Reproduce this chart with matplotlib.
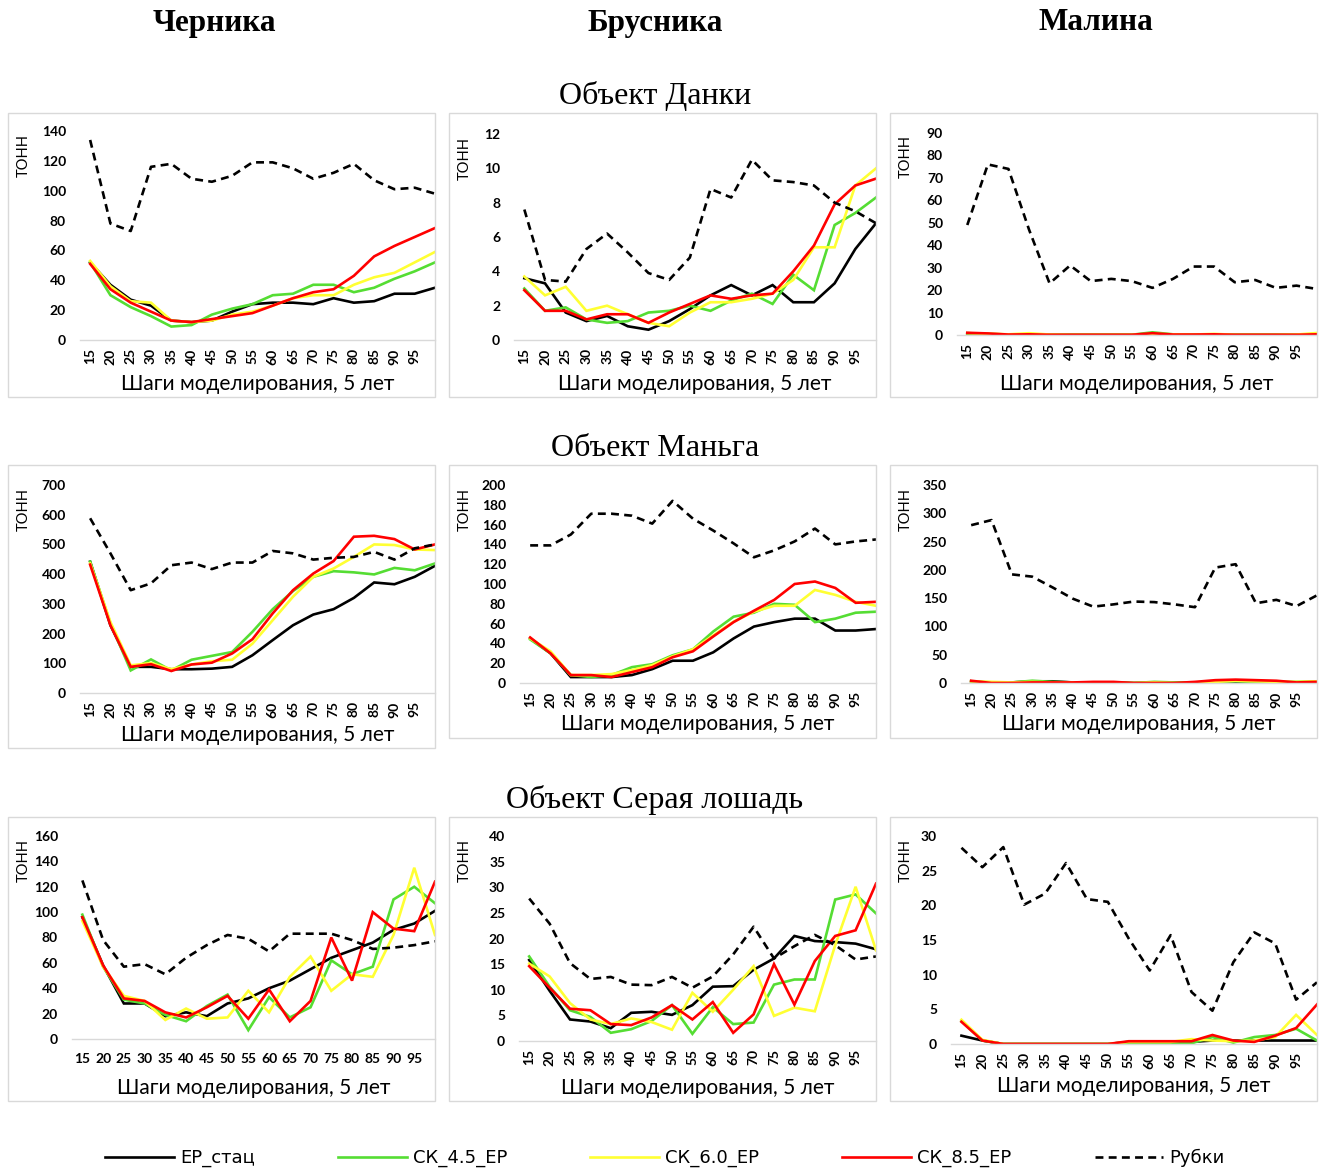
import matplotlib
matplotlib.use("Agg")
import matplotlib.pyplot as plt
from matplotlib.patches import Rectangle

# шаги моделирования
steps = [15, 20, 25, 30, 35, 40, 45, 50, 55, 60, 65, 70, 75, 80, 85, 90, 95, 100]
tick_steps = [15, 20, 25, 30, 35, 40, 45, 50, 55, 60, 65, 70, 75, 80, 85, 90, 95]

col_titles = ["Черника", "Брусника", "Малина"]
row_titles = ["Объект Данки", "Объект Маньга", "Объект Серая лошадь"]
series_names = ["ЕР_стац", "СК_4.5_ЕР", "СК_6.0_ЕР", "СК_8.5_ЕР", "Рубки"]

# --- Данки ---
danki_chern_stac = [52, 37, 27, 23, 13, 12, 13, 19, 24, 25, 25, 24, 28, 25, 26, 31, 31, 35]
danki_chern_45 = [52, 30, 22, 16, 9, 10, 17, 21, 24, 30, 31, 37, 37, 32, 35, 41, 46, 52]
danki_chern_60 = [53, 36, 26, 25, 13, 12, 13, 17, 19, 23, 28, 30, 30, 37, 42, 45, 52, 59]
danki_chern_85 = [51, 34, 25, 19, 13, 12, 14, 16, 18, 23, 28, 32, 34, 43, 56, 63, 69, 75]
danki_chern_rub = [134, 78, 73, 116, 118, 108, 106, 110, 119, 119, 115, 108, 112, 118, 107, 101, 102, 98]

danki_brus_stac = [3.6, 3.3, 1.6, 1.1, 1.4, 0.8, 0.6, 1.1, 1.8, 2.6, 3.2, 2.6, 3.2, 2.2, 2.2, 3.3, 5.3, 6.8]
danki_brus_45 = [3.0, 1.7, 1.9, 1.2, 1.0, 1.1, 1.6, 1.7, 2.0, 1.7, 2.3, 2.7, 2.1, 3.8, 2.9, 6.7, 7.4, 8.3]
danki_brus_60 = [3.7, 2.6, 3.1, 1.7, 2.0, 1.5, 1.0, 0.8, 1.6, 2.2, 2.2, 2.4, 2.7, 3.5, 5.4, 5.4, 9.0, 10.0]
danki_brus_85 = [2.9, 1.7, 1.7, 1.2, 1.5, 1.5, 1.0, 1.6, 2.1, 2.6, 2.4, 2.6, 2.7, 4.0, 5.5, 7.9, 9.0, 9.4]
danki_brus_rub = [7.6, 3.5, 3.4, 5.3, 6.2, 5.1, 3.9, 3.5, 4.8, 8.8, 8.3, 10.5, 9.3, 9.2, 9.0, 8.0, 7.5, 6.8]

danki_mal_stac = [0.5, 0.3, 0.2, 0.2, 0.1, 0.1, 0.1, 0.1, 0.1, 0.3, 0.1, 0.1, 0.2, 0.1, 0.1, 0.1, 0.1, 0.1]
danki_mal_45 = [0.8, 0.5, 0.2, 0.3, 0.1, 0.1, 0.1, 0.1, 0.1, 1.2, 0.3, 0.2, 0.3, 0.1, 0.1, 0.1, 0.1, 0.5]
danki_mal_60 = [0.8, 0.6, 0.3, 0.8, 0.2, 0.1, 0.1, 0.1, 0.1, 0.5, 0.3, 0.2, 0.5, 0.1, 0.1, 0.1, 0.2, 0.9]
danki_mal_85 = [1.0, 0.7, 0.2, 0.3, 0.1, 0.1, 0.1, 0.1, 0.1, 0.8, 0.2, 0.2, 0.3, 0.1, 0.1, 0.1, 0.1, 0.3]
danki_mal_rub = [49, 76, 74, 47, 23, 31, 24, 25, 24, 21, 25, 30.5, 30.5, 23.5, 24.5, 21, 22, 20.5]

# --- Маньга ---
manga_chern_stac = [442, 228, 88, 88, 80, 80, 82, 88, 127, 178, 228, 264, 282, 320, 372, 366, 391, 428]
manga_chern_45 = [442, 234, 76, 113, 76, 112, 125, 138, 206, 282, 343, 391, 410, 406, 399, 421, 413, 436]
manga_chern_60 = [436, 239, 93, 101, 80, 96, 107, 112, 166, 245, 324, 391, 419, 458, 500, 498, 483, 481]
manga_chern_85 = [432, 228, 88, 97, 74, 96, 102, 133, 181, 268, 346, 402, 444, 526, 529, 518, 483, 500]
manga_chern_rub = [588, 470, 346, 369, 430, 439, 417, 439, 439, 478, 470, 449, 455, 458, 475, 449, 487, 500]

manga_brus_stac = [45, 30, 6, 6, 6, 8, 14, 22.5, 22.5, 31, 45, 57, 61.5, 65, 65, 53, 53, 54.5]
manga_brus_45 = [44, 30, 8, 6, 8, 16, 19, 28, 34, 52, 67, 71, 80, 79, 61.5, 65, 71, 72]
manga_brus_60 = [45, 32, 8, 8, 9, 13, 18, 27, 34, 48, 62, 72, 78, 78, 94, 89, 82, 78]
manga_brus_85 = [46, 30, 8, 8, 6, 11, 16, 26, 32, 47, 61.5, 73, 84, 100, 102.5, 96, 81, 82]
manga_brus_rub = [139, 139, 150, 171, 171, 169, 161, 184, 166, 154, 141, 127, 134, 143, 156, 140, 143, 145]

manga_mal_stac = [3, 0, 1, 3, 3, 1, 1, 1, 0, 1, 1, 1, 1, 0, 0, 1, 1, 1]
manga_mal_45 = [3, 1, 1, 4, 2, 1, 1, 1, 0, 2, 1, 1, 2, 3, 2, 2, 2, 3]
manga_mal_60 = [3, 2, 1, 2, 1, 1, 1, 0, 0, 1, 0, 0, 2, 4, 3, 2, 2, 3]
manga_mal_85 = [4, 0, 0, 1, 1, 1, 2, 2, 0, 0, 0, 2, 5, 6, 5, 4, 1, 2]
manga_mal_rub = [279, 288, 192, 188, 169, 149, 135, 139, 144, 143, 139, 134, 204, 210, 141, 147, 136, 155]

# --- Серая лошадь ---
loshad_chern_stac = [96, 58, 28, 28, 18, 21, 18, 28, 32, 40, 46, 55, 64, 70, 76, 86, 91, 101]
loshad_chern_45 = [98, 57, 31, 28, 19, 14, 26, 35, 7, 33, 17, 25, 62, 51, 57, 110, 120, 107]
loshad_chern_60 = [93, 57, 34, 30, 15, 24, 16, 17, 38, 21, 49, 65, 38, 51, 49, 82, 135, 82]
loshad_chern_85 = [96, 58, 32, 30, 21, 17, 25, 34, 16, 39, 14, 30, 80, 46, 100, 87, 85, 124]
loshad_chern_rub = [125, 78, 57, 59, 51, 64, 74, 82, 79, 69, 83, 83, 83, 78, 71, 72, 74, 77]

loshad_brus_stac = [15.8, 9.8, 4.2, 3.8, 2.5, 5.5, 5.7, 5.1, 7.0, 10.6, 10.7, 13.9, 16.1, 20.5, 19.5, 19.3, 19.0, 17.9]
loshad_brus_45 = [16.5, 10.6, 6.0, 4.7, 1.6, 2.3, 3.9, 7.0, 1.4, 6.6, 3.3, 3.6, 11.0, 12.0, 12.0, 27.6, 28.6, 24.9]
loshad_brus_60 = [15.1, 12.6, 7.4, 4.2, 3.3, 4.4, 3.7, 2.2, 9.4, 5.7, 10.0, 14.6, 4.9, 6.5, 5.8, 18.7, 30.1, 17.7]
loshad_brus_85 = [14.6, 10.4, 6.3, 6.0, 3.3, 3.1, 4.6, 7.0, 4.2, 7.6, 1.6, 5.2, 15.0, 7.1, 15.6, 20.5, 21.6, 30.7]
loshad_brus_rub = [27.8, 22.9, 15.2, 12.1, 12.5, 11.0, 10.9, 12.5, 10.4, 12.6, 16.9, 22.3, 16.1, 18.5, 20.7, 18.7, 15.9, 16.5]

loshad_mal_stac = [1.2, 0.5, 0, 0, 0, 0, 0, 0, 0.3, 0.3, 0.3, 0.3, 0.5, 0.5, 0.5, 0.5, 0.5, 0.5]
loshad_mal_45 = [3.3, 0.5, 0, 0, 0, 0, 0, 0, 0.2, 0.2, 0.1, 0.1, 1.0, 0.2, 1.0, 1.3, 2.2, 0.5]
loshad_mal_60 = [3.5, 0.6, 0, 0, 0, 0, 0, 0, 0.3, 0.3, 0.3, 0.7, 0.5, 0.4, 0.5, 1.0, 4.2, 1.3]
loshad_mal_85 = [3.2, 0.5, 0, 0, 0, 0, 0, 0, 0.4, 0.4, 0.4, 0.4, 1.3, 0.5, 0.3, 1.2, 2.3, 5.7]
loshad_mal_rub = [28.3, 25.5, 28.4, 20.1, 21.7, 26.1, 20.9, 20.5, 15.2, 10.6, 15.7, 7.5, 4.8, 11.8, 16.1, 14.5, 6.4, 8.9]

# верхние границы осей и шаг делений
y_max = [[140, 12, 90], [700, 200, 350], [160, 40, 30]]
y_step = [[20, 2, 10], [100, 20, 50], [20, 5, 5]]

panels = [
    [[danki_chern_stac, danki_chern_45, danki_chern_60, danki_chern_85, danki_chern_rub],
     [danki_brus_stac, danki_brus_45, danki_brus_60, danki_brus_85, danki_brus_rub],
     [danki_mal_stac, danki_mal_45, danki_mal_60, danki_mal_85, danki_mal_rub]],
    [[manga_chern_stac, manga_chern_45, manga_chern_60, manga_chern_85, manga_chern_rub],
     [manga_brus_stac, manga_brus_45, manga_brus_60, manga_brus_85, manga_brus_rub],
     [manga_mal_stac, manga_mal_45, manga_mal_60, manga_mal_85, manga_mal_rub]],
    [[loshad_chern_stac, loshad_chern_45, loshad_chern_60, loshad_chern_85, loshad_chern_rub],
     [loshad_brus_stac, loshad_brus_45, loshad_brus_60, loshad_brus_85, loshad_brus_rub],
     [loshad_mal_stac, loshad_mal_45, loshad_mal_60, loshad_mal_85, loshad_mal_rub]],
]

colors = ["black", "#55dd33", "#ffff33", "#ff0000", "black"]
styles = ["-", "-", "-", "-", (0, (3, 2))]

# размещение в пикселях
W, H = 1327, 1171
frames = [  # x0, y0, x1, y1
    [(8, 113, 435, 397), (449, 113, 876, 397), (890, 113, 1317, 397)],
    [(8, 465, 435, 748), (449, 465, 876, 738), (890, 465, 1317, 738)],
    [(8, 817, 435, 1101), (449, 817, 876, 1101), (890, 817, 1317, 1101)],
]
plot_areas = [  # left, y of zero, y of top
    [(80, 340, 131), (514, 340, 134), (957, 335, 133)],
    [(80, 693, 485), (520, 683, 485), (961, 683, 485)],
    [(72, 1039, 836), (519, 1041, 836), (951, 1044, 836)],
]
xlabel_y = [[384, 384, 384], [735, 724, 724], [1088, 1088, 1086]]

sans = ["Lato", "DejaVu Sans"]
serif = ["Liberation Serif", "DejaVu Serif"]

fig = plt.figure(figsize=(W / 100, H / 100), dpi=100)


def fx(px):
    return px / W


def fy(py):
    return 1 - py / H


for c, t in enumerate(col_titles):
    fig.text(fx(214 + c * 441), fy(23), t, family=serif, fontweight="bold",
             fontsize=22.5, ha="center", va="center")
for r, t in enumerate(row_titles):
    fig.text(fx(655), fy(96 + r * 352), t, family=serif, fontsize=23,
             ha="center", va="center")

lines = []
for r in range(3):
    for c in range(3):
        x0, y0, x1, y1 = frames[r][c]
        fig.add_artist(Rectangle((fx(x0), fy(y1)), fx(x1 - x0), (y1 - y0) / H,
                                 transform=fig.transFigure, fill=False,
                                 edgecolor="#d9d9d9", lw=1))
        left, zero, top = plot_areas[r][c]
        ax = fig.add_axes([fx(left), fy(zero), fx(x1 - left), (zero - top) / H])
        for i, vals in enumerate(panels[r][c]):
            ln, = ax.plot(steps, vals, color=colors[i], linestyle=styles[i], lw=1.9,
                          solid_joinstyle="miter", label=series_names[i])
            if r == 0 and c == 0:
                lines.append(ln)
        ax.set_xlim(12.5, 100)
        ax.set_ylim(0, y_max[r][c])
        ax.set_yticks(range(0, y_max[r][c] + 1, y_step[r][c]))
        ax.set_xticks(tick_steps)
        rot = 0 if (r == 2 and c == 0) else 90
        ax.set_xticklabels([str(s) for s in tick_steps], rotation=rot)
        for lab in ax.get_xticklabels() + ax.get_yticklabels():
            lab.set_family(sans)
            lab.set_fontweight("bold")
            lab.set_fontsize(10)
        ax.tick_params(axis="y", length=0, pad=10)
        ax.tick_params(axis="x", length=0, pad=10 if rot == 0 else 6)
        for s in ["top", "right", "left"]:
            ax.spines[s].set_visible(False)
        ax.spines["bottom"].set_color("#d9d9d9")
        ax.spines["bottom"].set_linewidth(1)
        ax.patch.set_alpha(0)
        fig.text(fx((left + x1) / 2), fy(xlabel_y[r][c]), "Шаги моделирования, 5 лет",
                 family=sans, fontsize=15, ha="center", va="center")
        fig.text(fx(x0 + 16), fy(top + 24), "ТОНН", family=sans, fontsize=10.5,
                 rotation=90, ha="center", va="center")

fig.legend(handles=lines, labels=series_names, loc="center", ncol=5,
           bbox_to_anchor=(fx(665), fy(1158)), frameon=False,
           prop={"family": ["DejaVu Sans"], "size": 13},
           handlelength=3.8, handletextpad=0.35, columnspacing=4.6)

fig.savefig("out.png", dpi=100)
